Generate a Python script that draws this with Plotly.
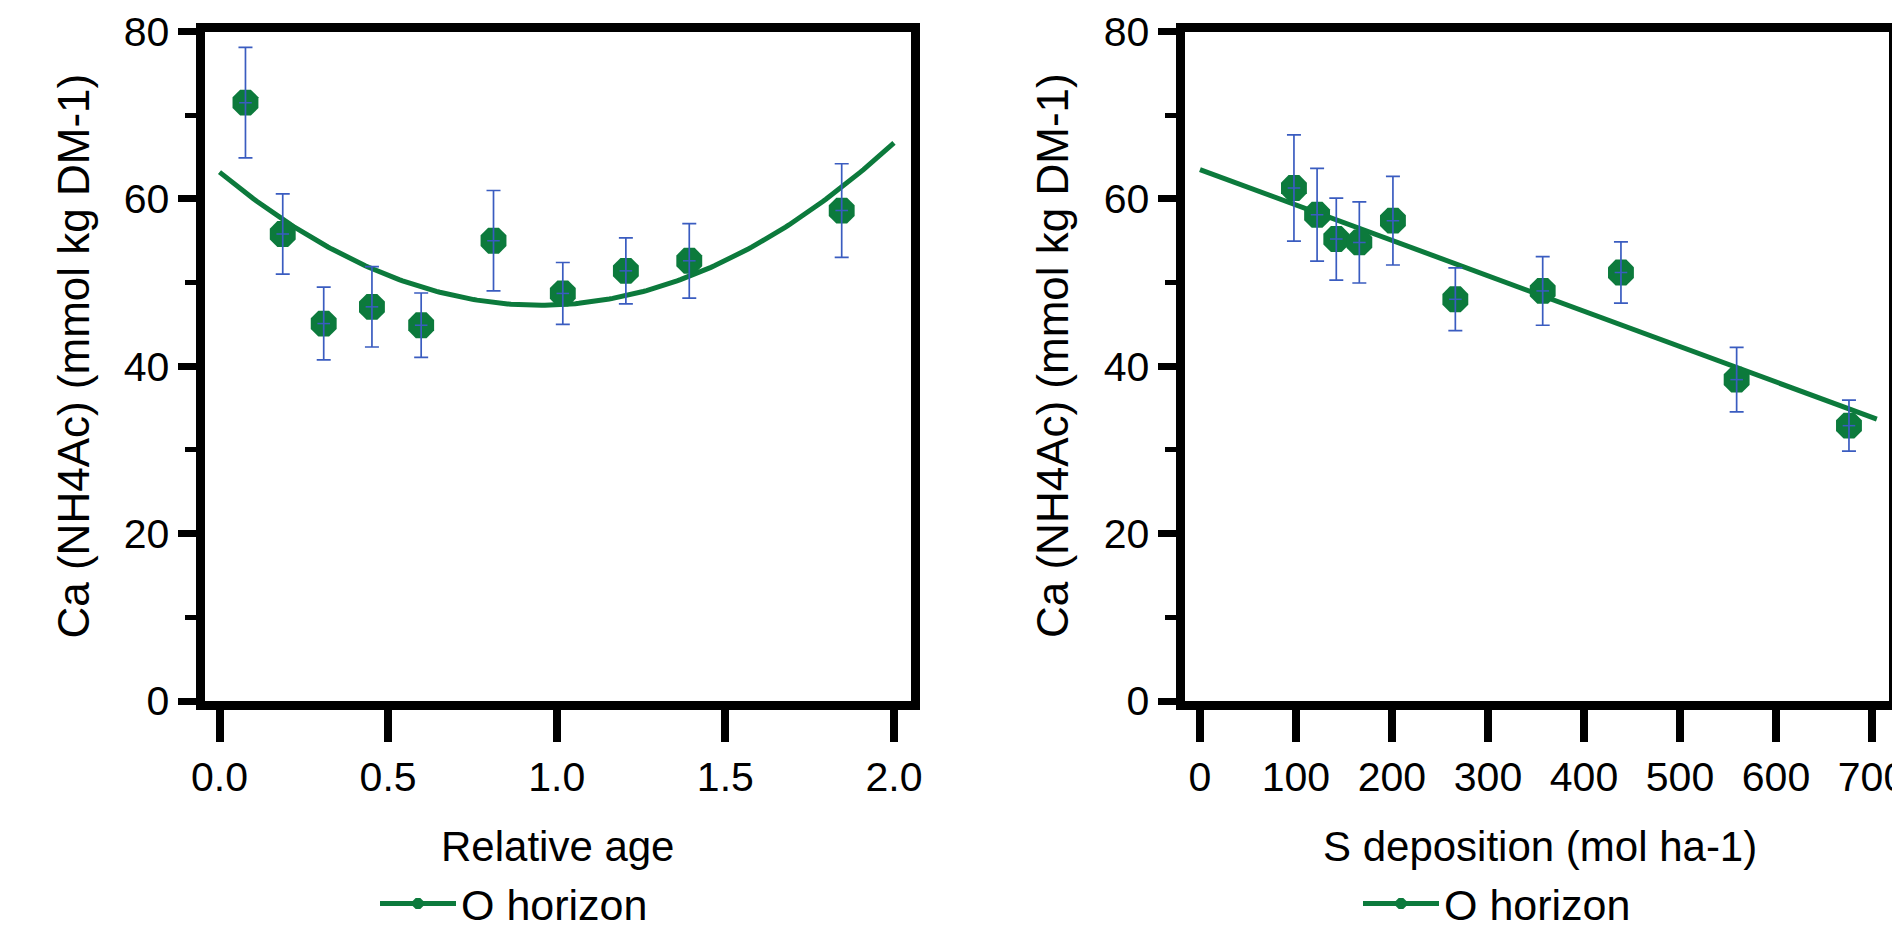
import numpy as np
import plotly.graph_objects as go

# ---------------- data ----------------
age_x = [0.077, 0.1875, 0.309, 0.452, 0.598, 0.8125, 1.018, 1.205, 1.393, 1.845]
age_y = [71.5, 55.8, 45.1, 47.1, 44.9, 55.0, 48.7, 51.4, 52.6, 58.6]
age_err = [6.6, 4.8, 4.35, 4.8, 3.85, 6.0, 3.7, 3.95, 4.45, 5.6]
age_fit_coeffs = [63.2, -33.49, 17.62]      # quadratic fit: a + b*x + c*x^2
age_fit_range = [0.0, 2.0]

sdep_x = [97.9, 122, 142, 166, 201, 266, 357, 438.5, 559, 676]
sdep_y = [61.3, 58.1, 55.2, 54.8, 57.4, 48.0, 49.0, 51.2, 38.4, 32.9]
sdep_err = [6.35, 5.55, 4.9, 4.85, 5.3, 3.75, 4.1, 3.65, 3.85, 3.05]
sdep_fit_coeffs = [63.5, -0.0423]            # linear fit: a + b*x
sdep_fit_range = [0.0, 705.0]

y_ticks = [0, 20, 40, 60, 80]
age_ticks = [0.0, 0.5, 1.0, 1.5, 2.0]
age_tick_labels = ["0.0", "0.5", "1.0", "1.5", "2.0"]
sdep_ticks = [0, 100, 200, 300, 400, 500, 600, 700]
series_name = "O horizon"
y_title = "Ca (NH4Ac) (mmol kg DM-1)"
age_title = "Relative age"
sdep_title = "S deposition (mol ha-1)"

# ---------------- style ----------------
W, H = 1892, 938
GREEN = "#0c7a3c"
BLUE = "#3a5cc0"
FONT = "Liberation Sans, Arial, sans-serif"

def px_x(p):
    return p / W

def px_y(p):
    return 1 - p / H

fig = go.Figure()

def add_panel(xs, ys, errs, fit_x, fit_y, xa, ya, legend_name):
    fig.add_trace(go.Scatter(x=fit_x, y=fit_y, mode="lines",
                             line=dict(color=GREEN, width=5),
                             xaxis=xa, yaxis=ya, showlegend=False, hoverinfo="skip"))
    fig.add_trace(go.Scatter(x=xs, y=ys, mode="markers",
                             marker=dict(symbol="octagon", size=28, color=GREEN),
                             xaxis=xa, yaxis=ya, showlegend=False))
    fig.add_trace(go.Scatter(x=xs, y=ys, mode="markers",
                             marker=dict(symbol="line-ew", size=9,
                                         line=dict(color=BLUE, width=1.5)),
                             error_y=dict(type="data", array=errs, visible=True,
                                          color=BLUE, thickness=1.7, width=7),
                             xaxis=xa, yaxis=ya, showlegend=False))
    fig.add_trace(go.Scatter(x=[None], y=[None], mode="lines+markers",
                             line=dict(color=GREEN, width=5),
                             marker=dict(symbol="octagon", size=12, color=GREEN),
                             name=series_name, legend=legend_name,
                             xaxis=xa, yaxis=ya, showlegend=True))

a0, a1 = age_fit_range
fx1 = np.linspace(a0, a1, 200)
fy1 = age_fit_coeffs[0] + age_fit_coeffs[1] * fx1 + age_fit_coeffs[2] * fx1 ** 2
add_panel(age_x, age_y, age_err, fx1, fy1, "x", "y", "legend")

s0, s1 = sdep_fit_range
fx2 = np.array([s0, s1])
fy2 = sdep_fit_coeffs[0] + sdep_fit_coeffs[1] * fx2
add_panel(sdep_x, sdep_y, sdep_err, fx2, fy2, "x2", "y2", "legend2")

ydom = [px_y(701), px_y(31.5)]
common_axis = dict(showline=True, linewidth=9, linecolor="black", mirror=True,
                   showgrid=False, zeroline=False, ticks="outside", automargin=False,
                   ticklabeloverflow="allow",
                   tickfont=dict(family=FONT, size=41, color="black"))

yaxis_style = dict(common_axis, range=[0, 80], tickvals=y_ticks, ticklen=18,
                   tickwidth=7, tickcolor="black",
                   minor=dict(tickvals=[10, 30, 50, 70], ticklen=11, tickwidth=5,
                              tickcolor="black", ticks="outside", showgrid=False),
                   domain=ydom)

legend_common = dict(xanchor="left", yanchor="bottom", orientation="h", itemwidth=76,
                     bgcolor="rgba(0,0,0,0)", borderwidth=0,
                     font=dict(family=FONT, size=43, color="black"))

fig.update_layout(
    width=W, height=H, autosize=False,
    margin=dict(l=0, r=0, t=0, b=0, autoexpand=False),
    paper_bgcolor="white", plot_bgcolor="white",
    font=dict(family=FONT, color="black"),
    xaxis=dict(common_axis, range=[-0.0445, 2.049], tickvals=age_ticks,
               ticktext=age_tick_labels, ticklen=32, tickwidth=8, tickcolor="black",
               domain=[px_x(204.5), px_x(910.5)], anchor="y"),
    yaxis=dict(yaxis_style, anchor="x"),
    xaxis2=dict(common_axis, range=[-16.1, 717.7], tickvals=sdep_ticks,
                ticklen=32, tickwidth=8, tickcolor="black",
                domain=[px_x(1184.5), px_x(1889)], anchor="y2"),
    yaxis2=dict(yaxis_style, anchor="x2"),
    legend=dict(legend_common, x=px_x(375), y=0),
    legend2=dict(legend_common, x=px_x(1358), y=0),
    showlegend=True,
)

ann_font = dict(family=FONT, size=42, color="black")
fig.add_annotation(text=age_title, x=px_x(557.5), y=px_y(846), xref="paper", yref="paper",
                   xanchor="center", yanchor="middle", showarrow=False, font=ann_font)
fig.add_annotation(text=sdep_title, x=px_x(1540), y=px_y(846), xref="paper", yref="paper",
                   xanchor="center", yanchor="middle", showarrow=False, font=ann_font)
fig.add_annotation(text=y_title, x=px_x(72.5), y=px_y(356), xref="paper", yref="paper",
                   xanchor="center", yanchor="middle", textangle=-90, showarrow=False,
                   font=dict(family=FONT, size=44, color="black"))
fig.add_annotation(text=y_title, x=px_x(1052), y=px_y(356), xref="paper", yref="paper",
                   xanchor="center", yanchor="middle", textangle=-90, showarrow=False,
                   font=dict(family=FONT, size=44, color="black"))

fig.write_html("out.html", config={"displayModeBar": False},
               post_script="document.body.style.margin='0';document.body.style.overflow='hidden';")
